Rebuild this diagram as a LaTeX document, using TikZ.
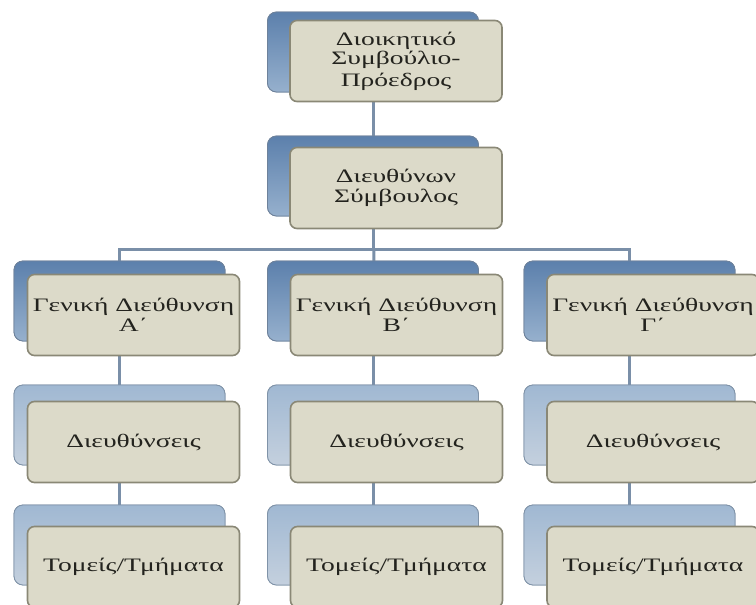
\documentclass[tikz,border=0pt]{standalone}
\usepackage{fontspec}
\newfontfamily\grfont[FakeStretch=1.45]{Liberation Serif}
\usetikzlibrary{positioning,calc}

\definecolor{linkcol}{RGB}{122,143,168}
\definecolor{boxfill}{RGB}{220,218,201}
\definecolor{boxedge}{RGB}{138,136,118}
\definecolor{deeptop}{RGB}{92,128,172}
\definecolor{deepbot}{RGB}{150,176,205}
\definecolor{paletop}{RGB}{160,184,210}
\definecolor{palebot}{RGB}{196,208,222}
\definecolor{shadedge}{RGB}{110,130,155}
\definecolor{inktext}{RGB}{35,35,30}

\begin{document}
\begin{tikzpicture}[
    x=1pt, y=-1pt,
    link/.style={line width=3pt, color=linkcol},
    backbox/.style={rounded corners=9pt, draw=shadedge, line width=0.8pt,
        minimum width=211pt, minimum height=80pt, inner sep=0pt},
    deepback/.style={backbox, top color=deeptop, bottom color=deepbot},
    paleback/.style={backbox, top color=paletop, bottom color=palebot, draw=paletop!80!black},
    frontbox/.style={rounded corners=7pt, draw=boxedge, line width=1.6pt, fill=boxfill,
        minimum width=212pt, minimum height=81pt, inner sep=2pt, text=inktext,
        align=center, font=\grfont\fontsize{19}{19.5}\selectfont},
]
\clip (0,0) rectangle (756,605);

% Back (shadow) boxes
\node[deepback] (boardsh) at (373,52) {};
\node[deepback] (ceosh) at (373,176) {};
\node[deepback] (genAsh) at (119.5,301) {};
\node[deepback] (genBsh) at (373,301) {};
\node[deepback] (genCsh) at (629.5,301) {};
\foreach \c/\bx in {A/119.5, B/373, C/629.5} {
    \node[paleback] (dir\c sh) at (\bx,425) {};
    \node[paleback] (sec\c sh) at (\bx,545) {};
}

% Connectors
\coordinate (bus) at (374,249);
\draw[link] (boardsh.center) -- (ceosh.center);
\draw[link] (ceosh.center) -- (ceosh.center |- bus);
\draw[link] (genAsh.center) |- (bus) -| (genCsh.center);
\draw[link] (bus) -- (genBsh.center);
\foreach \c in {A,B,C} {
    \draw[link] (gen\c sh.center) -- (dir\c sh.center) -- (sec\c sh.center);
}

% Redraw back boxes over the links
\node[deepback] at (boardsh) {};
\node[deepback] at (ceosh) {};
\node[deepback] at (genAsh) {};
\node[deepback] at (genBsh) {};
\node[deepback] at (genCsh) {};
\foreach \c in {A,B,C} {
    \node[paleback] at (dir\c sh) {};
    \node[paleback] at (sec\c sh) {};
}

% Front boxes
\node[frontbox] (board) at (396,61) {Διοικητικό\\Συμβούλιο-\\[2pt]Πρόεδρος};
\node[frontbox] (ceo) at (396,188) {Διευθύνων\\Σύμβουλος};
\foreach \c/\fx/\lab in {A/133.5/Α΄, B/396.5/Β΄, C/653/Γ΄} {
    \node[frontbox] (gen\c) at (\fx,315) {Γενική Διεύθυνση\\\lab};
    \node[frontbox] (dir\c) at (\fx,442) {Διευθύνσεις};
    \node[frontbox] (sec\c) at (\fx,567) {Τομείς/Τμήματα};
}

\end{tikzpicture}
\end{document}
